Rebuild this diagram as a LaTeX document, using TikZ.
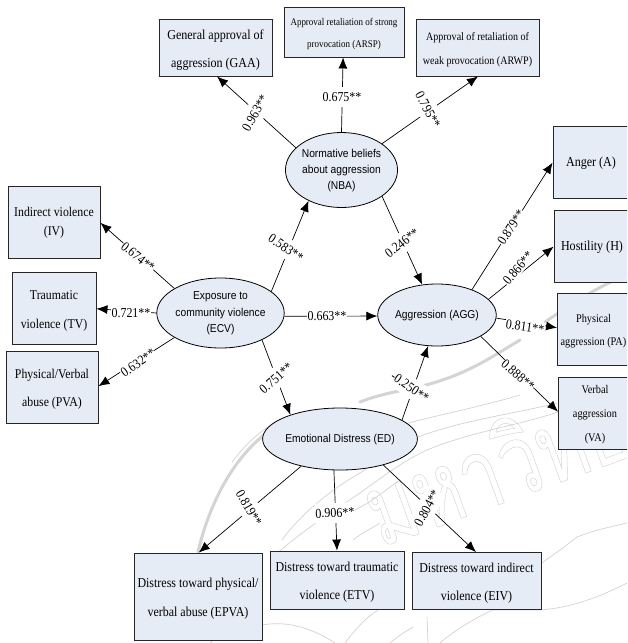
\documentclass[tikz,border=0pt]{standalone}
\usepackage{fontspec}
\usetikzlibrary{shapes.geometric,arrows.meta}
\newfontfamily\serf[FakeStretch=0.88]{Liberation Serif}
\newfontfamily\sanf[FakeStretch=0.9]{Liberation Sans}
\newfontfamily\thaifont[Script=Thai,FakeStretch=0.74]{Loma}
\definecolor{boxfill}{HTML}{E6ECF6}
\definecolor{wmthin}{HTML}{D2D2D2}
\definecolor{wmthick}{HTML}{D4D4D4}
\newcommand\txt[4]{\raisebox{#1pt}{\fontsize{#2}{#3}\selectfont\begin{tabular}{@{}c@{}}#4\end{tabular}}}
\tikzset{
  boxn/.style={draw=black!85,fill=boxfill,line width=.9pt,inner sep=0pt,font=\serf},
  elln/.style={ellipse,draw=black,fill=boxfill,line width=.8pt,inner sep=0pt,font=\sanf},
  conn/.style={draw=black,line width=.7pt,-{Latex[length=11pt,width=9pt]}},
  lab/.style={fill=white,inner xsep=.4pt,inner ysep=0pt,minimum height=20pt,font=\serf\fontsize{13.6}{13.6}\selectfont},
  wm/.style={draw=wmthin,line width=.7pt},
  wmk/.style={draw=wmthick,line width=3pt,line cap=round}
}
\begin{document}
\begin{tikzpicture}[x=1pt,y=-1pt]
\useasboundingbox (0,0) rectangle (627,643);
\clip (0,0) rectangle (627,643);
% watermark
\draw[wmk] (198,552) .. controls (210,500) and (240,440) .. (292,418);
\draw[wmk] (360,402) .. controls (385,392) and (410,390) .. (433,383) .. controls (470,372) and (490,358) .. (520,340);
\draw[wmk] (545,322) .. controls (570,305) and (600,285) .. (627,275);
\draw[wm] (232,462) .. controls (245,445) and (260,430) .. (280,420);
\draw[wm] (360,437) .. controls (410,420) and (470,410) .. (520,395);
\draw[wm] (282,540) .. controls (300,515) and (330,490) .. (360,473) .. controls (380,460) and (395,450) .. (410,440) .. controls (460,420) and (510,415) .. (557,403);
\draw[wm] (275,555) .. controls (310,525) and (335,510) .. (360,493) .. controls (385,475) and (405,460) .. (427,450) .. controls (470,432) and (520,425) .. (558,412);
\draw[wm] (493,610) .. controls (510,580) and (545,563) .. (577,537) .. controls (595,530) and (610,527) .. (627,523);
\draw[wm] (440,643) .. controls (455,630) and (475,618) .. (493,610) -- (540,610) .. controls (570,608) and (600,597) .. (627,583);
\draw[wm] (427,617) -- (428,643);
\draw[wm] (390,643) .. controls (398,636) and (405,632) .. (413,627);
\draw[wm] (210,643) .. controls (235,620) and (250,600) .. (262,590);
\draw[wm] (262,625) .. controls (290,620) and (315,630) .. (335,643);
\draw[wm] (345,643) .. controls (355,630) and (365,618) .. (378,610);
\draw[wm] (355,510) .. controls (375,500) and (385,490) .. (400,480);
\draw[wm] (353,540) .. controls (362,533) and (372,528) .. (380,523);
\node[rotate=20,anchor=base west,inner sep=0pt,text=wmthin] (wmtext) at (380,548) {\special{pdf:code q 1 Tr 0.45 w}\thaifont\fontsize{100}{100}\selectfont มหาวิทย\special{pdf:code Q}};
% latent variables
\node[elln,minimum width=111pt,minimum height=75pt] (nba) at (341.5,170) {\txt{0}{11.4}{16}{Normative beliefs\\about aggression\\(NBA)}};
\node[elln,minimum width=111pt,minimum height=62pt] (ecv) at (220.5,313) {\txt{0}{11.4}{16.5}{Exposure to\\community violence\\(ECV)}};
\node[elln,minimum width=110pt,minimum height=62pt] (agg) at (437,315) {\txt{0}{11.4}{16}{Aggression (AGG)}};
\node[elln,minimum width=121pt,minimum height=62pt] (ed) at (340,439) {\txt{0}{11.4}{16}{Emotional Distress (ED)}};
% indicators
\node[boxn,minimum width=113pt,minimum height=57pt] (gaa) at (215.5,47.5) {\txt{-2.5}{13.7}{28}{General approval of\\aggression (GAA)}};
\node[boxn,minimum width=120pt,minimum height=50pt] (arsp) at (344,32) {\txt{2}{10.2}{22}{Approval retaliation of strong\\provocation (ARSP)}};
\node[boxn,minimum width=123pt,minimum height=57pt] (arwp) at (477.5,47.5) {\txt{-2.5}{11.4}{24.5}{Approval of retaliation of\\weak provocation (ARWP)}};
\node[boxn,minimum width=92pt,minimum height=72pt] (iv) at (54,222) {\txt{-4}{13.4}{19}{Indirect violence\\(IV)}};
\node[boxn,minimum width=84pt,minimum height=72pt] (tv) at (54,308) {\txt{-2.5}{13.4}{29}{Traumatic\\violence (TV)}};
\node[boxn,minimum width=92pt,minimum height=72pt] (pva) at (52,387) {\txt{-2}{13.4}{28}{Physical/Verbal\\abuse (PVA)}};
\node[boxn,minimum width=76pt,minimum height=72pt] (anger) at (591,162) {\txt{-3}{13.7}{20}{Anger (A)}};
\node[boxn,minimum width=76pt,minimum height=72pt] (host) at (592,246) {\txt{-2}{13.7}{20}{Hostility (H)}};
\node[boxn,minimum width=72pt,minimum height=72pt] (pa) at (593.5,329) {\txt{-2.5}{11.7}{23}{Physical\\aggression (PA)}};
\node[boxn,minimum width=73pt,minimum height=72pt] (va) at (595,413) {\txt{-3}{11.7}{24}{Verbal\\aggression\\(VA)}};
\node[boxn,minimum width=128pt,minimum height=87pt] (epva) at (198,596.5) {\txt{-3}{13.6}{28.5}{Distress toward physical/\\verbal abuse (EPVA)}};
\node[boxn,minimum width=134pt,minimum height=58pt] (etv) at (337,580) {\txt{-2}{13.6}{28.5}{Distress toward traumatic\\violence (ETV)}};
\node[boxn,minimum width=129pt,minimum height=56pt] (eiv) at (476.5,581) {\txt{-3}{13.6}{28.5}{Distress toward indirect\\violence (EIV)}};
% connectors
\draw[conn] (nba.154.7) -- (gaa.273);
\draw[conn] (nba.90) -- (arsp.268);
\draw[conn] (nba.33) -- (arwp.271);
\draw[conn] (nba.-33.7) -- (agg.116.6);
\draw[conn] (ecv.23.7) -- (nba.223.7);
\draw[conn] (ecv.152.6) -- (iv.-1);
\draw[conn] (ecv.180) -- (tv.-1);
\draw[conn] (ecv.208.5) -- (pva.1);
\draw[conn] (ecv.-3) -- (agg.181);
\draw[conn] (ecv.-33.3) -- (ed.154);
\draw[conn] (ed.17.8) -- (agg.254.3);
\draw[conn] (agg.36.3) -- (anger.181);
\draw[conn] (agg.17) -- (host.181);
\draw[conn] (agg.-3) -- (pa.178);
\draw[conn] (agg.-26.6) -- (va.178);
\draw[conn] (ed.215) -- (epva.89);
\draw[conn] (ed.259) -- (etv.90);
\draw[conn] (ed.-31.6) -- (eiv.91);
% loadings
\node[lab,rotate=60] (l1) at (255,113) {0.963**};
\node[lab] (l2) at (342,97) {0.675**};
\node[lab,rotate=-62] (l3) at (428,110) {0.795**};
\node[lab,rotate=38] (l4) at (402,243) {0.246**};
\node[lab,rotate=-34] (l5) at (286,248) {0.583**};
\node[lab,rotate=-39] (l6) at (138,257) {0.674**};
\node[lab,minimum height=12pt] (l7) at (131,313) {0.721**};
\node[lab,rotate=35] (l8) at (138,363) {0.632**};
\node[lab,minimum height=12pt] (l9) at (327,316) {0.663**};
\node[lab,rotate=41] (l10) at (276,378) {0.751**};
\node[lab,rotate=-35] (l11) at (410,387) {-0.250**};
\node[lab,rotate=57,minimum height=12pt] (l12) at (511,227) {0.879**};
\node[lab,rotate=50,minimum height=12pt] (l13) at (518,268) {0.866**};
\node[lab,rotate=-8,minimum height=12pt] (l14) at (525,327) {0.811**};
\node[lab,rotate=-40,minimum height=12pt] (l15) at (518,375) {0.888**};
\node[lab,rotate=-60] (l16) at (249,508) {0.819**};
\node[lab,rotate=2] (l17) at (335,513) {0.906**};
\node[lab,rotate=61] (l18) at (427,508) {0.804**};
\end{tikzpicture}
\end{document}
